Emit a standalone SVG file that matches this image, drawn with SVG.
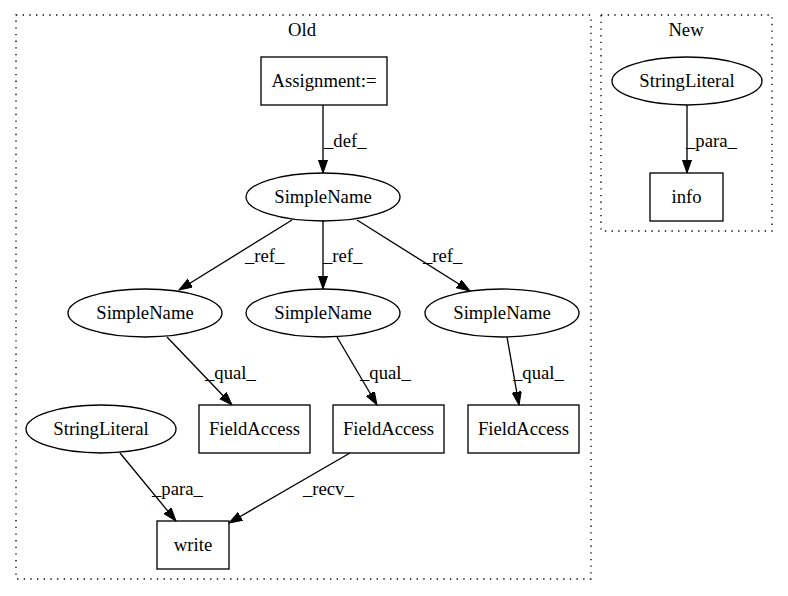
<svg xmlns="http://www.w3.org/2000/svg" width="788" height="596" viewBox="0 0 788 596">
<style>
.t{font-family:'Liberation Serif','Times New Roman',Times,serif;font-size:18.67px;fill:#000}
.n{text-anchor:middle}
.shape{fill:none;stroke:#000;stroke-width:1.33}
.cl{fill:none;stroke:#000;stroke-width:1.33;stroke-dasharray:1.33,5.33}
.e{stroke:#000;stroke-width:1.33;fill:none;marker-end:url(#ah)}
</style>
<defs>
<marker id="ah" markerUnits="userSpaceOnUse" markerWidth="14" markerHeight="10" refX="13.3" refY="4.67" orient="auto">
<path d="M0,0 L13.3,4.67 L0,9.33 z" fill="#000" stroke="#000" stroke-width="1"/>
</marker>
</defs>
<rect width="788" height="596" fill="#fff"/>
<g class="t" font-family="Liberation Serif, serif">
<g id="cluster_old">
<rect class="cl" x="16" y="15" width="575" height="564"/>
<text class="n" x="302" y="36">Old</text>
</g>
<g id="cluster_new">
<rect class="cl" x="601" y="15" width="171" height="216"/>
<text class="n" x="686" y="36">New</text>
</g>
<g id="edges">
<line class="e" x1="323" y1="105" x2="323" y2="173"/>
<text x="324" y="147">_def_</text>
<line class="e" x1="292" y1="220" x2="179" y2="290"/>
<text x="245" y="262">_ref_</text>
<line class="e" x1="323" y1="220" x2="323" y2="289"/>
<text x="323" y="262">_ref_</text>
<line class="e" x1="357" y1="220" x2="470" y2="291"/>
<text x="423" y="262">_ref_</text>
<line class="e" x1="167" y1="337" x2="232" y2="405"/>
<text x="205" y="379">_qual_</text>
<line class="e" x1="337" y1="337" x2="377" y2="405"/>
<text x="360" y="379">_qual_</text>
<line class="e" x1="507" y1="337" x2="519" y2="405"/>
<text x="513" y="379">_qual_</text>
<line class="e" x1="120" y1="453" x2="176" y2="521"/>
<text x="152" y="495">_para_</text>
<line class="e" x1="350" y1="453" x2="229" y2="523"/>
<text x="303" y="495">_recv_</text>
<line class="e" x1="687" y1="105" x2="687" y2="173"/>
<text x="686" y="147">_para_</text>
</g>
<g id="assignment">
<rect class="shape" x="261" y="57" width="126" height="48"/>
<text class="n" x="324" y="87">Assignment:=</text>
</g>
<g id="simplename_top">
<ellipse class="shape" cx="323" cy="197" rx="77" ry="24"/>
<text class="n" x="323" y="203">SimpleName</text>
</g>
<g id="simplename_left">
<ellipse class="shape" cx="145" cy="313" rx="77" ry="24"/>
<text class="n" x="145" y="319">SimpleName</text>
</g>
<g id="simplename_mid">
<ellipse class="shape" cx="323" cy="313" rx="77" ry="24"/>
<text class="n" x="323" y="319">SimpleName</text>
</g>
<g id="simplename_right">
<ellipse class="shape" cx="502" cy="313" rx="77" ry="24"/>
<text class="n" x="502" y="319">SimpleName</text>
</g>
<g id="fieldaccess_left">
<rect class="shape" x="199" y="405" width="111" height="48"/>
<text class="n" x="254.5" y="435">FieldAccess</text>
</g>
<g id="fieldaccess_mid">
<rect class="shape" x="333" y="405" width="111" height="48"/>
<text class="n" x="388.5" y="435">FieldAccess</text>
</g>
<g id="fieldaccess_right">
<rect class="shape" x="468" y="405" width="111" height="48"/>
<text class="n" x="523.5" y="435">FieldAccess</text>
</g>
<g id="stringliteral_old">
<ellipse class="shape" cx="101" cy="429" rx="75" ry="24"/>
<text class="n" x="101" y="435">StringLiteral</text>
</g>
<g id="write">
<rect class="shape" x="157" y="521" width="72" height="48"/>
<text class="n" x="193" y="551">write</text>
</g>
<g id="stringliteral_new">
<ellipse class="shape" cx="687" cy="81" rx="75" ry="24"/>
<text class="n" x="687" y="87">StringLiteral</text>
</g>
<g id="info">
<rect class="shape" x="650" y="173" width="73" height="48"/>
<text class="n" x="686.5" y="203">info</text>
</g>
</g>
</svg>
